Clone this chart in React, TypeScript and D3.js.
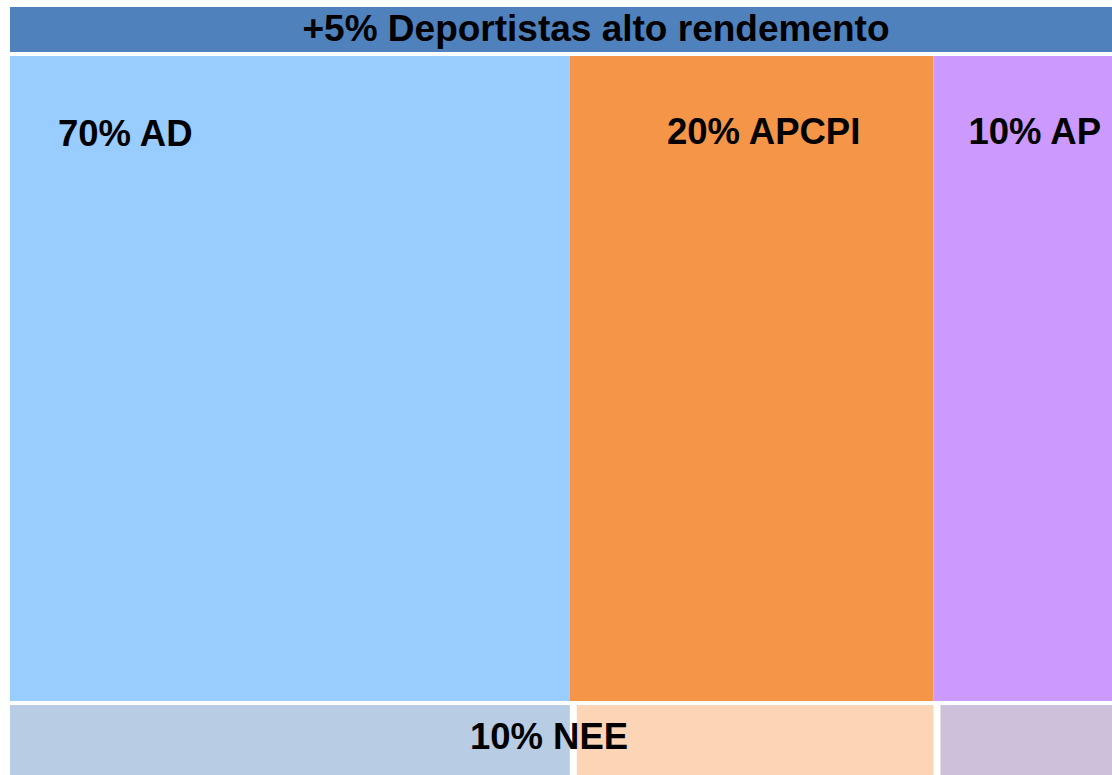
import React, { useEffect, useRef } from "react";
import * as d3 from "d3";

// Values
const title = "+5% Deportistas alto rendemento";
const categories = ["AD", "APCPI", "AP"];
const percentages = [70, 20, 10];
// relative width of each block as drawn (does not follow the percentages)
const columnShare = [50.8, 33.0, 16.2];
const bottomCategory = "NEE";
const bottomPercentage = 10;

const mainColors = ["#99ccff", "#f59547", "#cc99ff"];
const bottomColors = ["#b8cce4", "#fbd5b5", "#ccc0da"];
const headerColor = "#4f81bd";

const App: React.FC = () => {
  const svgRef = useRef<SVGSVGElement | null>(null);

  useEffect(() => {
    if (!svgRef.current) return;

    const width = 1112;
    const left = 10;
    const header = { top: 7, bottom: 52 };
    const main = { top: 56, bottom: 701 };
    const lower = { top: 705, bottom: 775 };
    const font = "'Liberation Sans', Arial, sans-serif";

    const svg = d3.select(svgRef.current);
    svg.selectAll("*").remove();

    // cumulative columns
    const total = d3.sum(columnShare);
    const starts = d3.cumsum([0, ...columnShare.slice(0, -1)]);
    const cols = categories.map((c, i) => ({
      name: c,
      pct: percentages[i],
      x0: starts[i],
      x1: starts[i] + columnShare[i],
      i,
    }));

    const x = d3.scaleLinear().domain([0, total]).range([left, width]);

    // header bar
    svg
      .append("rect")
      .attr("x", x(0))
      .attr("y", header.top)
      .attr("width", x(total) - x(0))
      .attr("height", header.bottom - header.top)
      .attr("fill", headerColor);

    svg
      .append("text")
      .attr("x", x(total / 2) + 35)
      .attr("y", 41)
      .attr("text-anchor", "middle")
      .attr("font-family", font)
      .attr("font-weight", "bold")
      .attr("font-size", "37px")
      .attr("fill", "#000")
      .text(title);

    // main blocks
    svg
      .selectAll(".main-block")
      .data(cols)
      .join("rect")
      .attr("class", "main-block")
      .attr("x", (d) => x(d.x0))
      .attr("y", main.top)
      .attr("width", (d) => x(d.x1) - x(d.x0))
      .attr("height", main.bottom - main.top)
      .attr("fill", (d) => mainColors[d.i]);

    svg
      .selectAll(".main-label")
      .data(cols)
      .join("text")
      .attr("class", "main-label")
      .attr("x", (d) =>
        d.i === 0 ? x(d.x0) + 48 : (x(d.x0) + x(d.x1)) / 2 + 12
      )
      .attr("y", (d) => (d.i === 0 ? 146 : 144))
      .attr("text-anchor", (d) => (d.i === 0 ? "start" : "middle"))
      .attr("font-family", font)
      .attr("font-weight", "bold")
      .attr("font-size", "36.5px")
      .attr("fill", "#000")
      .text((d) => `${d.pct}% ${d.name}`);

    // bottom (NEE) strip
    svg
      .selectAll(".bottom-block")
      .data(cols)
      .join("rect")
      .attr("class", "bottom-block")
      .attr("x", (d) => x(d.x0) + (d.i === 0 ? 0 : 7))
      .attr("y", lower.top)
      .attr("width", (d) => x(d.x1) - x(d.x0) - (d.i === 0 ? 0 : 7))
      .attr("height", lower.bottom - lower.top)
      .attr("fill", (d) => bottomColors[d.i]);

    svg
      .append("text")
      .attr("x", x(total / 2) - 12)
      .attr("y", 749)
      .attr("text-anchor", "middle")
      .attr("font-family", font)
      .attr("font-weight", "bold")
      .attr("font-size", "36.5px")
      .attr("fill", "#000")
      .text(`${bottomPercentage}% ${bottomCategory}`);
  }, []);

  return (
    <svg
      ref={svgRef}
      width={1112}
      height={775}
      style={{ position: "absolute", left: 0, top: 0, display: "block", background: "#fff" }}
    ></svg>
  );
};

export default App;
